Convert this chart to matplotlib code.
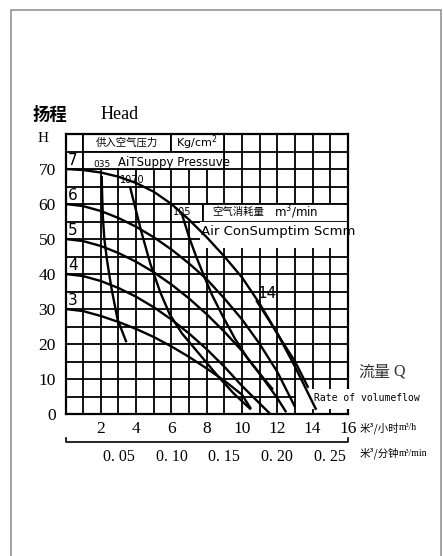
import matplotlib
matplotlib.use("Agg")
import matplotlib.pyplot as plt
from matplotlib.patches import Rectangle
import matplotlib.transforms as mtransforms

CJK = ['Noto Sans CJK SC', 'DejaVu Sans']
SERIF = ['Liberation Serif', 'DejaVu Serif']

# pressure curves, kg/cm2 -> (flow m3/h, head m)
p7_q = [0, 1, 2, 3, 4, 5, 6, 7, 8, 9, 10, 11, 12, 13, 14.2]
p7_h = [70, 69.7, 69, 67.8, 66, 63.5, 60, 55.5, 50.5, 45, 39, 31.5, 23, 13.5, 1.2]
p6_q = [0, 1, 2, 3, 4, 5, 6, 7, 8, 9, 10, 11, 12, 13]
p6_h = [60, 59.4, 58, 56, 53.5, 50.5, 47, 43, 38.5, 33, 27, 20, 12, 2]
p5_q = [0, 1, 2, 3, 4, 5, 6, 7, 8, 9, 10, 11, 12, 12.5]
p5_h = [50, 49.4, 48, 46, 43.5, 40.5, 37, 33, 28.5, 23.5, 18, 11.5, 4.5, 0.5]
p4_q = [0, 1, 2, 3, 4, 5, 6, 7, 8, 9, 10, 11, 11.6]
p4_h = [40, 39.4, 38, 36, 33.5, 30.5, 27, 23, 18.5, 13.5, 8, 3, 0]
p3_q = [0, 1, 2, 3, 4, 5, 6, 7, 8, 9, 10, 10.5]
p3_h = [30, 29.4, 28, 26.3, 24.3, 22, 19.3, 16.3, 13, 9.5, 5.5, 1.5]
pressures = ['7', '6', '5', '4', '3']

# air consumption lines, m3/min
a035_q = [2.05, 2.08, 2.12, 2.2, 2.35, 2.6, 2.95, 3.45]
a035_h = [68, 62, 56, 50, 44, 36, 27, 20.5]
a070_q = [3.65, 3.9, 4.3, 4.8, 5.35, 5.9, 6.6, 7.6, 8.6, 9.5, 10.5]
a070_h = [65, 60, 52, 43, 35, 28.5, 23, 17, 11, 6, 1.3]
a105_q = [6.6, 7.0, 7.4, 7.8, 8.3, 8.9, 9.6, 10.3, 11.0, 11.75]
a105_h = [57, 50.5, 45, 40, 34, 28, 21.5, 16, 11.5, 7]
a14_q = [10.8, 11.5, 12.3, 13.0, 13.75]
a14_h = [32.5, 27, 20.5, 15, 7.5]

x_labels = [2, 4, 6, 8, 10, 12, 14, 16]
y_labels = [0, 10, 20, 30, 40, 50, 60, 70]
min_labels = ['0. 05', '0. 10', '0. 15', '0. 20', '0. 25']
min_values = [0.05, 0.10, 0.15, 0.20, 0.25]

fig = plt.figure(figsize=(4.43, 5.56), dpi=100)
fig.patches.append(Rectangle((11 / 443, -0.1), 430 / 443, 1.1 - 9.5 / 556,
                             transform=fig.transFigure, fill=False,
                             edgecolor='#8a8a8a', lw=1.1))

ax = fig.add_axes([65.5 / 443, 1 - 414 / 556, 282.5 / 443, 280 / 556])
ax.set_xlim(0, 16)
ax.set_ylim(0, 80)
ax.set_xticks(range(0, 17))
ax.set_yticks(range(0, 81, 5))
ax.set_xticklabels([str(v) if v in x_labels else '' for v in range(0, 17)],
                   fontfamily=SERIF, fontsize=12.5)
ax.set_yticklabels([str(v) if v in y_labels else '' for v in range(0, 81, 5)],
                   fontfamily=SERIF, fontsize=12.5)
ax.tick_params(length=0, pad=7)
ax.tick_params(axis='x', pad=5)
ax.set_axisbelow(True)
ax.grid(True, color='black', lw=1.3)
for s in ax.spines.values():
    s.set_linewidth(1.6)

# white text boxes that break the grid
boxes = [(1, 75, 5, 5), (6, 75, 3, 5), (1, 70, 8, 5),
         (6, 55, 1.8, 5), (7.8, 55, 8.2, 5)]
for x0, y0, w, h in boxes:
    ax.add_patch(Rectangle((x0, y0), w, h, facecolor='white',
                           edgecolor='black', lw=1.3, zorder=1.5))
ax.add_patch(Rectangle((7.6, 47.5), 8.4, 7.3, facecolor='white',
                       edgecolor='none', zorder=1.6))
ax.add_patch(Rectangle((13.05, 1.3), 3.6, 5.9, facecolor='white',
                       edgecolor='none', zorder=2.6, clip_on=False))

for q, h in [(p7_q, p7_h), (p6_q, p6_h), (p5_q, p5_h), (p4_q, p4_h), (p3_q, p3_h),
             (a035_q, a035_h), (a070_q, a070_h), (a105_q, a105_h), (a14_q, a14_h)]:
    ax.plot(q, h, color='black', lw=1.7, zorder=3, solid_capstyle='butt')

# pressure numbers in first column
for p, h0 in zip(pressures, [p7_h[0], p6_h[0], p5_h[0], p4_h[0], p3_h[0]]):
    ax.text(0.15, h0 + 2.4, p, fontsize=11, ha='left', va='center', zorder=4)

ax.text(3.5, 77.5, '供入空气压力', family=CJK, fontsize=7.5, ha='center', va='center', zorder=4)
ax.text(7.45, 77.6, 'Kg/cm$^2$', fontsize=8, ha='center', va='center', zorder=4)
ax.text(2.05, 71.2, '035', fontsize=6.5, ha='center', va='center', zorder=4)
ax.text(2.95, 71.8, 'AiTSuppy Pressuve', fontsize=8.5, ha='left', va='center', zorder=4)
ax.text(3.1, 66.8, '1070', fontsize=7, ha='left', va='center', zorder=4)
ax.text(6.1, 57.8, '105', fontsize=7, ha='left', va='center', zorder=4)
ax.text(8.3, 57.6, '空气消耗量', family=CJK, fontsize=7.5, ha='left', va='center', zorder=4)
ax.text(11.8, 57.8, 'm$^3$/min', fontsize=8.5, ha='left', va='center', zorder=4)
ax.text(7.65, 52, 'Air ConSumptim Scmm', fontsize=9.5, ha='left', va='center', zorder=4)
ax.text(10.85, 34.5, '14', fontsize=11, ha='left', va='center', zorder=4)
ax.text(14.1, 4.6, 'Rate of volumeflow', family='DejaVu Sans Mono', fontsize=7,
        ha='left', va='center', zorder=4, clip_on=False)

ax.text(-1.27, 78.7, 'H', family=SERIF, fontsize=11, ha='center', va='center', clip_on=False)
ax.text(-0.9, 85.5, '扬程', family=CJK, fontsize=12.5, fontweight='bold',
        ha='center', va='center', clip_on=False)
ax.text(3.05, 85.5, 'Head', family=SERIF, fontsize=13, ha='center', va='center', clip_on=False)
ax.text(16.6, 12, '流量', family=CJK, fontsize=11.5, color='#333333',
        ha='left', va='center', clip_on=False)
ax.text(18.55, 12, 'Q', family=SERIF, fontsize=11.5, color='#333333',
        ha='left', va='center', clip_on=False)

# second flow scale in m3/min
trans = mtransforms.blended_transform_factory(ax.transData, ax.transAxes)
ax.plot([0, 0, 16, 16], [-0.087, -0.099, -0.099, -0.087], color='black', lw=1.2,
        transform=trans, clip_on=False)
for lab, v in zip(min_labels, min_values):
    ax.text(v * 60, -0.154, lab, family=SERIF, fontsize=11.5, ha='center',
            va='center', transform=trans)

ax.text(16.65, -0.05, '米³/小时', family=CJK, fontsize=7.5, ha='left', va='center', transform=trans)
ax.text(18.9, -0.05, 'm³/h', family=SERIF, fontsize=7, ha='left', va='center', transform=trans)
ax.text(16.65, -0.14, '米³/分钟', family=CJK, fontsize=7.5, ha='left', va='center', transform=trans)
ax.text(18.9, -0.14, 'm³/min', family=SERIF, fontsize=7, ha='left', va='center', transform=trans)

fig.savefig('out.png', dpi=100)
